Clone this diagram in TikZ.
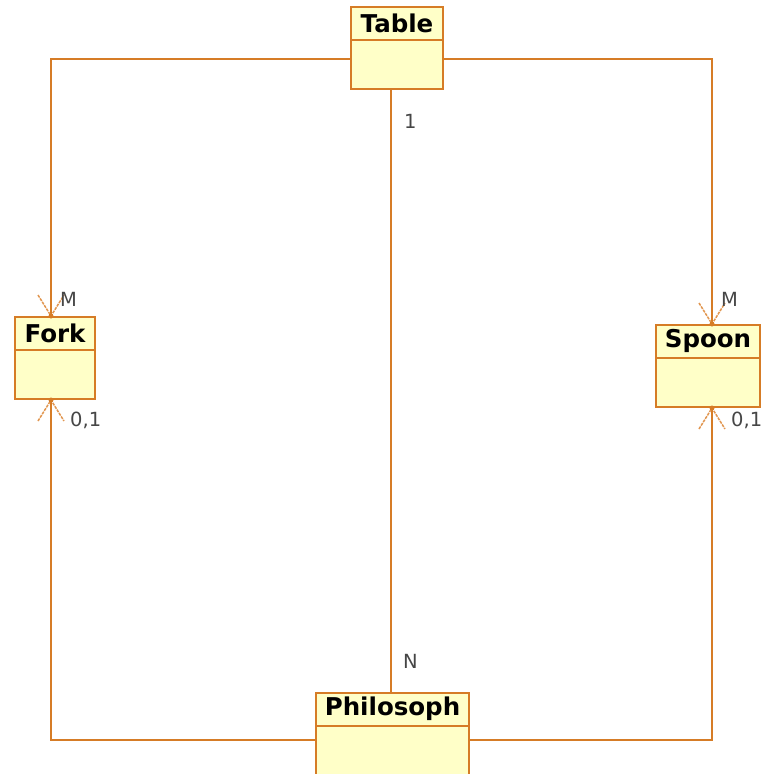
\documentclass[tikz,border=0pt]{standalone}
\usepackage{fontspec}
\setmainfont{DejaVu Sans}
\usetikzlibrary{calc}
\definecolor{boxfill}{RGB}{255,255,200}
\definecolor{boxline}{RGB}{214,124,38}
\definecolor{headline}{RGB}{225,150,80}
\definecolor{labelgray}{RGB}{70,70,70}
\begin{document}
\begin{tikzpicture}[x=1pt,y=-1pt,
  classbox/.style={draw=boxline,fill=boxfill,line width=2pt,inner sep=0pt,minimum height=82pt},
  title/.style={font=\fontsize{24.5}{26}\selectfont\bfseries,text=black,anchor=center,inner sep=0pt},
  conn/.style={draw=boxline,line width=1.6pt},
  divider/.style={draw=boxline,line width=2pt},
  head/.style={draw=headline,line width=1.5pt,dash pattern=on 3pt off 1pt},
  lbl/.style={font=\fontsize{19.5}{21}\selectfont,text=labelgray,anchor=west,inner sep=0pt}]
\useasboundingbox (0,0) rectangle (764,774);
% boxes
\node[classbox,minimum width=92pt] (table) at (397,48) {};
\node[classbox,minimum width=80pt] (fork) at (55,358) {};
\node[classbox,minimum width=104pt] (spoon) at (708,366) {};
\node[classbox,minimum width=153pt] (phil) at (392.5,734) {};
% header dividers
\draw[divider] ([yshift=-34pt]table.north west) -- ([yshift=-34pt]table.north east);
\draw[divider] ([yshift=-34pt]fork.north west) -- ([yshift=-34pt]fork.north east);
\draw[divider] ([yshift=-34pt]spoon.north west) -- ([yshift=-34pt]spoon.north east);
\draw[divider] ([yshift=-34pt]phil.north west) -- ([yshift=-34pt]phil.north east);
% titles
\node[title] (tablet) at ([yshift=-17pt]table.north) {Table};
\node[title] (forkt) at ([yshift=-17pt]fork.north) {Fork};
\node[title] (spoont) at ([yshift=-17pt]spoon.north) {Spoon};
\node[title] (philt) at ([yshift=-17pt]phil.north) {Philosoph};
% connector endpoints
\coordinate (fa) at ([xshift=-4pt]fork.north);
\coordinate (fb) at ([xshift=-4pt]fork.south);
\coordinate (sa) at ([xshift=4pt]spoon.north);
\coordinate (sb) at ([xshift=4pt]spoon.south);
% connectors
\draw[conn] ([yshift=-11pt]table.west) -| (fa);
\draw[conn] ([yshift=-11pt]table.east) -| (sa);
\draw[conn] ([xshift=-6pt]table.south) -- ([xshift=-1.5pt]phil.north);
\draw[conn] ([yshift=-6pt]phil.west) -| (fb);
\draw[conn] ([yshift=-6pt]phil.east) -| (sb);
% arrowheads
\draw[head] ($(fa)+(-13,-21)$) -- (fa) -- ($(fa)+(13,-21)$);
\draw[head] ($(sa)+(-13,-21)$) -- (sa) -- ($(sa)+(13,-21)$);
\draw[head] ($(fb)+(-13,21)$) -- (fb) -- ($(fb)+(13,21)$);
\draw[head] ($(sb)+(-13,21)$) -- (sb) -- ($(sb)+(13,21)$);
\fill[boxline] (fa) circle (2.5pt) (fb) circle (2.5pt) (sa) circle (2.5pt) (sb) circle (2.5pt);
% labels
\node[lbl] (l1) at (404,121) {1};
\node[lbl] (lN) at (403,661) {N};
\node[lbl] (lfm) at (60,299) {M};
\node[lbl] (lsm) at (721,299) {M};
\node[lbl] (lf01) at (70,420) {0,1};
\node[lbl] (ls01) at (731,420) {0,1};
\end{tikzpicture}
\end{document}
